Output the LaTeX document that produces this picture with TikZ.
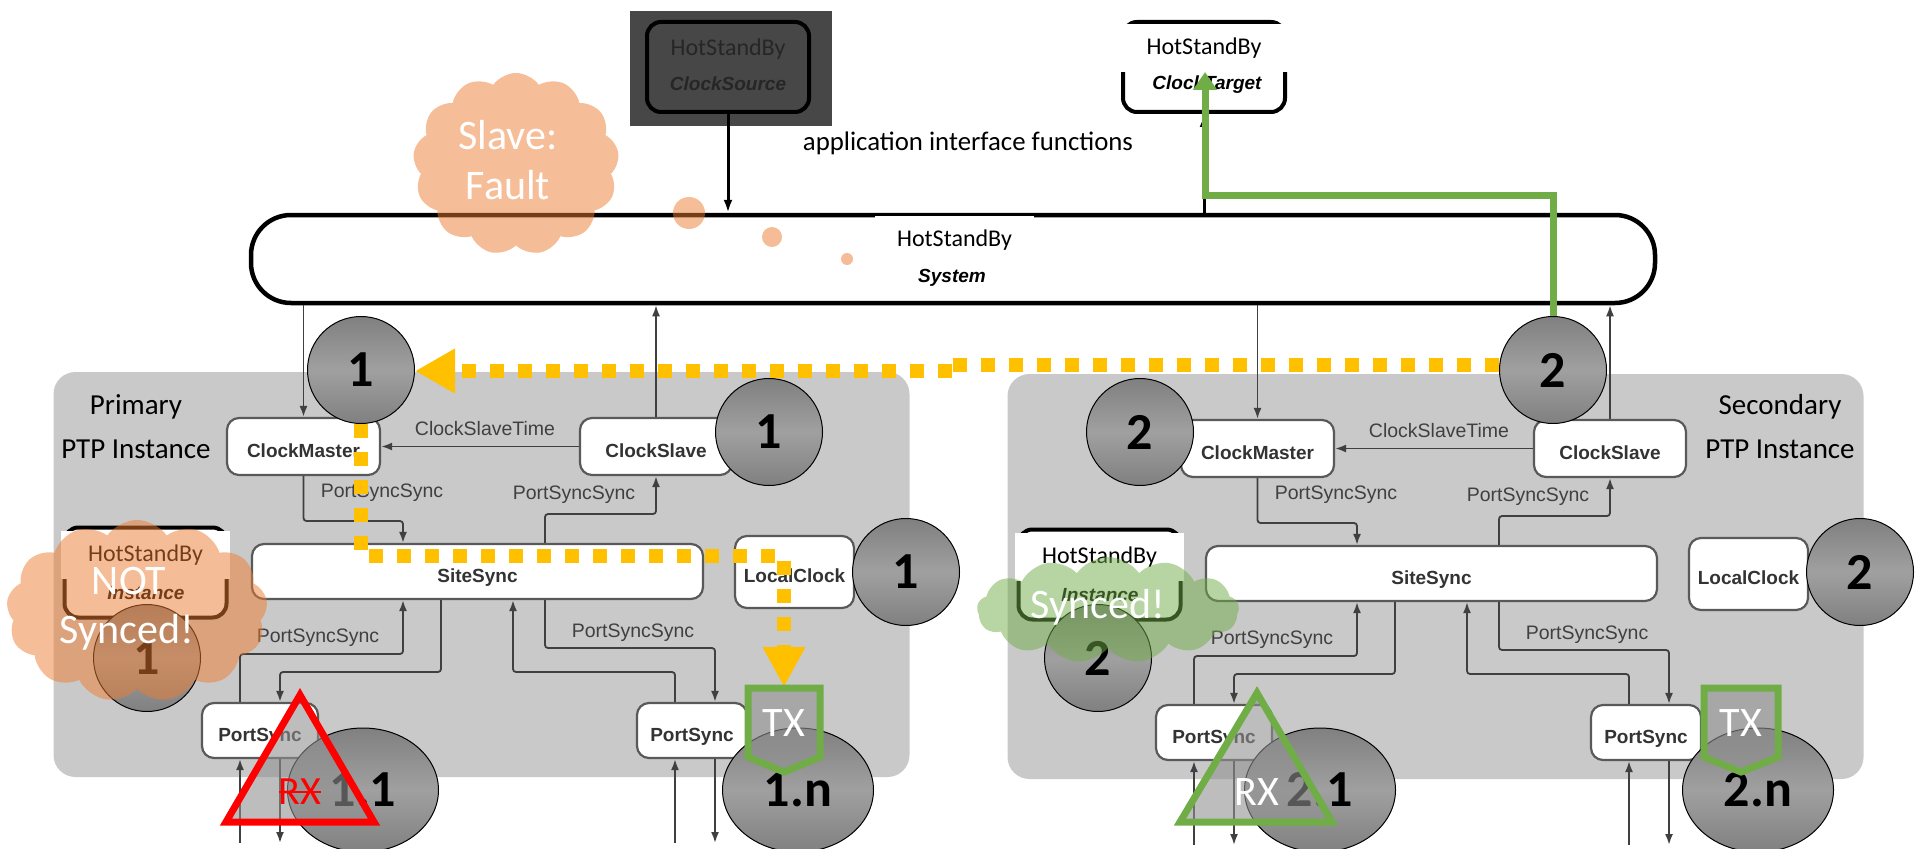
\documentclass[tikz,border=0pt]{standalone}
\usepackage{fontspec}
\setmainfont{Carlito}
\newfontfamily\diagfont{Liberation Sans}
\usetikzlibrary{arrows.meta,shapes.geometric,shapes.symbols}
\definecolor{panelgray}{HTML}{C9C9C9}
\definecolor{sourcegray}{HTML}{474747}
\definecolor{flowyellow}{HTML}{FFC000}
\definecolor{okgreen}{HTML}{70AD47}
\definecolor{faultorange}{HTML}{ED7D31}
\definecolor{badgedark}{HTML}{808080}
\definecolor{badgelight}{HTML}{A0A0A0}
\newcommand{\fsize}[1]{\fontsize{#1}{#1}\selectfont}
\tikzset{
    panel/.style={fill=panelgray, rounded corners=22pt, minimum width=856pt, minimum height=405pt, inner sep=0pt},
    syncbox/.style={draw=black!65, line width=2.2pt, fill=white, rounded corners=12pt, inner sep=0pt, text height=21pt, text depth=0pt, font=\diagfont\bfseries\fsize{19}, text=black!80},
    hsbox/.style={draw=black, line width=4pt, rounded corners=14pt, minimum width=162pt, minimum height=90pt, inner sep=0pt},
    hspatch/.style={fill=white, inner sep=0pt, font=\fsize{24}},
    hsname/.style={inner sep=0pt, font=\diagfont\bfseries\itshape\fsize{19}},
    link/.style={draw=black!75, line width=1.8pt, -{Latex[length=11pt,width=8pt]}},
    linklabel/.style={inner sep=0pt, font=\diagfont\fsize{19.5}, text=black!75},
    panellabel/.style={inner sep=0pt, font=\fsize{29}},
    badge/.style={circle, draw=black, line width=1pt, minimum size=107pt, inner sep=0pt, top color=badgedark, bottom color=badgedark, middle color=badgelight, font=\bfseries\fsize{52}},
    bigbadge/.style={ellipse, draw=black, line width=1pt, minimum width=151pt, minimum height=124pt, inner sep=0pt, top color=badgedark, bottom color=badgedark, middle color=badgelight, font=\bfseries\fsize{52}},
    flow/.style={draw=flowyellow, line width=14pt, dash pattern=on 14pt off 14pt},
    port/.style={line width=7pt, line join=miter, fill=black!43, fill opacity=.6},
    puff/.style={cloud, cloud puffs=13, cloud puff arc=110, aspect=1, inner sep=0pt, fill opacity=.5},
    whitetext/.style={inner sep=0pt, text=white, font=\fsize{42}},
}
\begin{document}
\begin{tikzpicture}[x=1pt,y=-1pt]
\clip (0,0) rectangle (1918,848);

% the two instances are the same apart from a shift
\foreach \side/\sx/\sy in {A/0/0, B/954/2}{
\begin{scope}[shift={(\sx,\sy)}]
    \node[panel] (\side-panel) at (481.5,574.5) {};
    \node[syncbox, minimum width=153pt, minimum height=57pt] (\side-clockmaster) at (303.5,446.5) {ClockMaster};
    \node[syncbox, minimum width=152pt, minimum height=57pt] (\side-clockslave) at (656,446.5) {ClockSlave};
    \node[syncbox, minimum width=451pt, minimum height=55pt] (\side-sitesync) at (477.5,571.5) {SiteSync};
    \node[syncbox, minimum width=119pt, minimum height=72pt] (\side-localclock) at (794.5,572) {LocalClock};
    \node[syncbox, minimum width=116pt, minimum height=55pt] (\side-portl) at (260,730.5) {PortSync};
    \node[syncbox, minimum width=110pt, minimum height=55pt] (\side-portr) at (692,730.5) {PortSync};
    \node[hsbox, fill=white] (\side-instance) at (145.5,572.5) {};
    \node[hspatch, minimum width=169pt, minimum height=48pt] (\side-instancepatch) at (145.5,555) {HotStandBy};
    \node[hsname] (\side-instancename) at (146,593) {Instance};
    \coordinate (\side-portlin) at (240,843);
    \coordinate (\side-portlout) at (280,843);
    \coordinate (\side-portrin) at (675,843);
    \coordinate (\side-portrout) at (715,843);
    \node[linklabel] (\side-timelabel) at (485,429) {ClockSlaveTime};
    \node[linklabel] (\side-synclabela) at (382,493) {PortSyncSync};
    \node[linklabel] (\side-synclabelb) at (574,495) {PortSyncSync};
    \node[linklabel] (\side-synclabelc) at (318,638) {PortSyncSync};
    \node[linklabel] (\side-synclabeld) at (633,633) {PortSyncSync};
    \draw[link] (\side-clockslave.west |- 0,446.5) -- (\side-clockmaster.east |- 0,446.5);
    \draw[link, rounded corners=3pt] (\side-clockmaster.south) |- (403,521) -- ([xshift=-74.5pt]\side-sitesync.north);
    \draw[link, rounded corners=3pt] ([xshift=67.5pt]\side-sitesync.north) |- (656,514) -- (\side-clockslave.south);
    \draw[link, rounded corners=3pt] ([xshift=-20pt]\side-portl.north) |- (403,654) -- ([xshift=-74.5pt]\side-sitesync.south);
    \draw[link, rounded corners=3pt] ([xshift=-36.5pt]\side-sitesync.south) |- (280,672) -- ([xshift=20pt]\side-portl.north);
    \draw[link, rounded corners=3pt] ([xshift=-17pt]\side-portr.north) |- (513,672) -- ([xshift=35.5pt]\side-sitesync.south);
    \draw[link, rounded corners=3pt] ([xshift=67.5pt]\side-sitesync.south) |- (715,648) -- ([xshift=23pt]\side-portr.north);
    \draw[link] (\side-portlin) -- ([xshift=-20pt]\side-portl.south);
    \draw[link] ([xshift=20pt]\side-portl.south) -- (\side-portlout);
    \draw[link] (\side-portrin) -- ([xshift=-17pt]\side-portr.south);
    \draw[link] ([xshift=23pt]\side-portr.south) -- (\side-portrout);
\end{scope}
}

\node[panellabel] (primary) at (136,407) {Primary};
\node[panellabel] (primaryptp) at (136,449) {PTP Instance};
\node[panellabel] (secondary) at (1780,407) {Secondary};
\node[panellabel] (secondaryptp) at (1780,449) {PTP Instance};

% application interface
\node[fill=sourcegray, minimum width=202pt, minimum height=115pt, inner sep=0pt] (sourcebg) at (731,68.5) {};
\node[hsbox] (clocksource) at (728,67) {};
\node[inner sep=0pt, font=\fsize{24}, text=black!85] (sourcetop) at (728,49) {HotStandBy};
\node[hsname, text=black!85] (sourcename) at (728,84) {ClockSource};
\node[hsbox, fill=white] (clocktarget) at (1204,67) {};
\node[hspatch, minimum width=170pt, minimum height=48pt] (targetpatch) at (1204,48) {HotStandBy};
\node[hsname] (targetname) at (1207,85) {ClockTarget};
\node[inner sep=0pt, font=\fsize{26.8}] (apilabel) at (968,143) {application interface functions};

\node[draw=black, line width=4.5pt, fill=white, rounded corners=40pt, minimum width=1404pt, minimum height=88pt, inner sep=0pt] (system) at (953,259) {};
\node[hspatch, minimum width=159pt, minimum height=48pt] (systempatch) at (954.5,240) {HotStandBy};
\node[hsname] (systemname) at (952,278) {System};

\draw[draw=black, line width=3pt, -{Latex[length=13pt,width=9pt]}] (clocksource) -- (clocksource |- system.north);
\draw[draw=black, line width=3pt, -{Latex[length=13pt,width=9pt]}] (clocktarget |- system.north) -- (clocktarget.south);
\foreach \side in {A,B}{
    \draw[link] (system.south -| \side-clockmaster) -- (\side-clockmaster);
    \draw[link] (\side-clockslave) -- (system.south -| \side-clockslave);
}

% numbered badges
\foreach \name/\px/\py/\txt in {topone/361/370/1, slaveone/769/432/1, localone/906/572/1, instone/147/658/1,
    toptwo/1553/370/2, mastertwo/1140/432/2, localtwo/1860/572/2, insttwo/1098/658/2}
    \node[badge] (\name) at (\px,\py) {\txt};
\foreach \name/\px/\txt in {portoneone/363/1.1, portonen/798/1.n, porttwoone/1320/2.1, porttwon/1758/2.n}
    \node[bigbadge] (\name) at (\px,790) {\txt};

% state clouds
\node[puff, fill=faultorange, minimum width=206pt, minimum height=182pt] (faultcloud) at (516,164) {};
\node[whitetext] (faulttop) at (508,135) {Slave:};
\node[whitetext] (faultbottom) at (508,185) {Fault};
\foreach \name/\px/\py/\rad in {bubblea/689/213/16, bubbleb/772/237/10, bubblec/847/259/6}
    \node[circle, fill=faultorange, fill opacity=.5, minimum size=2*\rad*1pt, inner sep=0pt] (\name) at (\px,\py) {};
\node[puff, fill=faultorange, minimum width=261pt, minimum height=182pt] (lostcloud) at (137,611) {};
\node[whitetext] (losttop) at (129,581) {NOT};
\node[whitetext] (lostbottom) at (127,632) {Synced!};
\node[puff, fill=okgreen, minimum width=262pt, minimum height=106pt] (okcloud) at (1108,610) {};
\node[whitetext] (oktext) at (1098,607) {Synced!};

% sync path
\coordinate (flowkink) at (952,364.5);
\coordinate (flowkinkb) at (952,371);
\draw[flow] ([yshift=5.5pt]toptwo.west) -- (flowkink);
\draw[flow, -{Triangle[length=40pt,width=42pt]}] (flowkinkb) -- (topone.east |- flowkinkb);
\draw[flow, -{Triangle[length=40pt,width=40pt]}] (topone.south) -- (361,556) -- (784,556) -- (784,687);

% ports
\draw[port, draw=red] (300,695) -- (374,822) -- (226,822) -- cycle;
\draw[port, draw=okgreen] (1257,693) -- (1332,822) -- (1180,822) -- cycle;
\draw[port, draw=okgreen] (748,688) -- (820,688) -- (820,757) -- (784,772) -- (748,757) -- cycle;
\draw[port, draw=okgreen] (1704,688) -- (1778,688) -- (1778,757) -- (1741,772) -- (1704,757) -- cycle;
\node[inner sep=0pt, text=red, font=\fsize{40}] (rxlost) at (300,792) {RX};
\draw[red, line width=2.5pt] (rxlost.west) -- (rxlost.east);
\node[whitetext] (rxok) at (1257,792) {RX};
\node[whitetext] (txone) at (784,723) {TX};
\node[whitetext] (txtwo) at (1741,723) {TX};

% failover to the target
\draw[draw=okgreen, line width=7pt, -{Triangle[length=18pt,width=23pt]}] (toptwo.north) -- (1553,195) -- (1205,195) -- (1205,72);
\end{tikzpicture}
\end{document}
